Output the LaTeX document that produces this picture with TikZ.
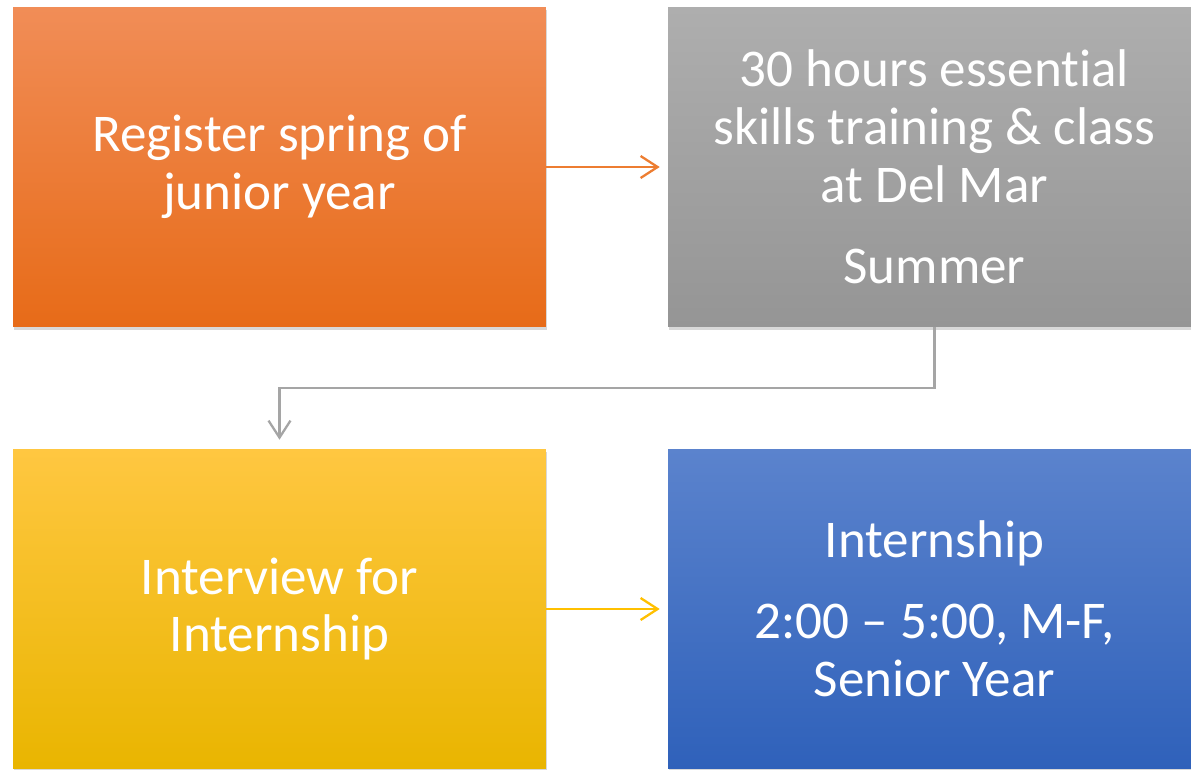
\documentclass[tikz,border=0pt]{standalone}
\usepackage{fontspec}
\setmainfont[Ligatures=NoCommon]{Carlito}
\usepackage{tikz}
\usetikzlibrary{arrows.meta,shadows}
\definecolor{orangetop}{HTML}{F18D57}
\definecolor{orangebot}{HTML}{E76B18}
\definecolor{graytop}{HTML}{AEAEAE}
\definecolor{graybot}{HTML}{959595}
\definecolor{yellowtop}{HTML}{FFC741}
\definecolor{yellowbot}{HTML}{E9B500}
\definecolor{bluetop}{HTML}{5B83CD}
\definecolor{bluebot}{HTML}{2F61BA}
\definecolor{orangeline}{HTML}{ED7D31}
\definecolor{grayline}{HTML}{A5A5A5}
\definecolor{yellowline}{HTML}{FFC000}
\tikzset{
  stepbox/.style={draw=none, minimum width=10.66cm, minimum height=6.4cm,
    align=center, text=white,
    font=\fontsize{30.2}{33}\selectfont,
    drop shadow={shadow xshift=0.6pt, shadow yshift=-1.6pt, opacity=0.3}},
  flow/.style={line width=1.3pt, -{Straight Barb[length=3.4mm,width=4.4mm]},
    shorten >=0.16cm},
}
\begin{document}
\begin{tikzpicture}[x=0.02cm,y=-0.02cm]
  \clip (0,0) rectangle (1191,769);
  \fill[white] (0,0) rectangle (1191,769);
  \node[stepbox, top color=orangetop, bottom color=orangebot] (reg) at (279.5,167)
    {Register spring of\\junior year};
  \node[stepbox, top color=graytop, bottom color=graybot] (train) at (934.5,167)
    {30 hours essential\\skills training \& class\\at Del Mar\\[13pt]Summer};
  \node[stepbox, top color=yellowtop, bottom color=yellowbot] (intv) at (279.5,609)
    {Interview for\\Internship};
  \node[stepbox, top color=bluetop, bottom color=bluebot] (intern) at (934.5,609)
    {Internship\\[13pt]2:00 -- 5:00, M-F,\\Senior Year};
  \draw[flow, draw=orangeline] (reg) -- (train);
  \draw[flow, draw=grayline, shorten >=0.18cm] (train.south) -- ++(0,61) -| (intv.north);
  \draw[flow, draw=yellowline] (intv) -- (intern);
\end{tikzpicture}
\end{document}
